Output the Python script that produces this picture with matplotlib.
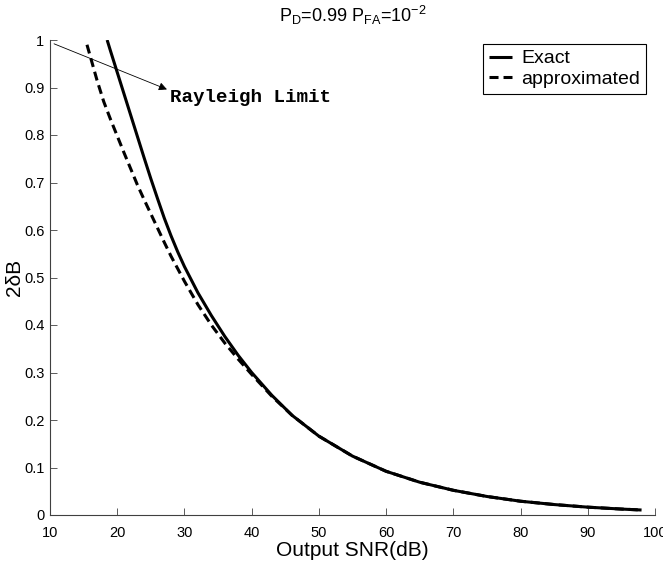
import matplotlib
matplotlib.use("Agg")
import matplotlib.pyplot as plt

# ---- data ----
exact_snr = [18.5, 19, 20, 21, 22, 23, 24, 25, 26, 27, 28, 29, 30, 32, 34, 36, 38, 40,
             43, 46, 50, 55, 60, 65, 70, 75, 80, 85, 90, 95, 98]
exact_val = [1.0, 0.977, 0.932, 0.887, 0.842, 0.797, 0.752, 0.708, 0.666, 0.625, 0.588,
             0.554, 0.523, 0.468, 0.42, 0.376, 0.336, 0.30, 0.252, 0.21, 0.166, 0.124,
             0.092, 0.069, 0.052, 0.039, 0.029, 0.022, 0.0165, 0.0125, 0.0105]

approx_snr = [15.5, 16, 17, 18, 19, 20, 21, 22, 23, 24, 25, 26, 27, 28, 30, 32, 34,
              36, 38, 40, 43, 46, 50, 55, 60, 65, 70, 75, 80, 85, 90, 95, 98]
approx_val = [0.99, 0.965, 0.915, 0.87, 0.833, 0.798, 0.763, 0.729, 0.695, 0.664, 0.634,
              0.604, 0.574, 0.545, 0.492, 0.443, 0.40, 0.362, 0.328, 0.296, 0.25, 0.21,
              0.166, 0.124, 0.092, 0.069, 0.052, 0.039, 0.029, 0.022, 0.0165, 0.0125,
              0.0105]

xticks = [10, 20, 30, 40, 50, 60, 70, 80, 90, 100]
yticks = [0, 0.1, 0.2, 0.3, 0.4, 0.5, 0.6, 0.7, 0.8, 0.9, 1]
ytick_labels = ["0", "0.1", "0.2", "0.3", "0.4", "0.5", "0.6", "0.7", "0.8", "0.9", "1"]

plt.rcParams['font.family'] = ['Liberation Sans', 'DejaVu Sans']
plt.rcParams['mathtext.fontset'] = 'custom'
plt.rcParams['mathtext.rm'] = 'Liberation Sans'
plt.rcParams['mathtext.it'] = 'Liberation Sans'
plt.rcParams['lines.scale_dashes'] = False

fig = plt.figure(figsize=(6.63, 5.63), dpi=100)
ax = fig.add_axes([50/663, 48/563, 605/663, 475/563])

ax.plot(exact_snr, exact_val, color='black', lw=2.2, solid_capstyle='butt', label='Exact')
ax.plot(approx_snr, approx_val, color='black', lw=2.2, dashes=[6.5, 3.6],
        dash_capstyle='butt', label='approximated')

ax.set_xlim(10, 100)
ax.set_ylim(0, 1)
ax.set_xticks(xticks)
ax.set_yticks(yticks)
ax.set_yticklabels(ytick_labels)
for s in ['top', 'right']:
    ax.spines[s].set_visible(False)
for s in ['left', 'bottom']:
    ax.spines[s].set_color('#404040')
    ax.spines[s].set_linewidth(0.8)
ax.tick_params(direction='in', length=5, width=0.6, color='#404040', labelsize=10.5)
ax.tick_params(axis='x', pad=8)
ax.tick_params(axis='y', pad=4)

ax.set_xlabel('Output SNR(dB)', fontsize=15, labelpad=1)
ax.set_ylabel('2\u03b4B', fontsize=15)
ax.yaxis.set_label_coords(-0.043, 0.5)
ax.set_title(r'$\mathrm{P_{D}}$=0.99 $\mathrm{P_{FA}}$=10$^{-2}$', fontsize=13, pad=13)

ax.annotate('', xy=(27.4, 0.896), xytext=(10.6, 0.992), textcoords='data',
            arrowprops=dict(arrowstyle='-|>', lw=0.6, color='black',
                            mutation_scale=12, shrinkA=0, shrinkB=0))
ax.text(27.8, 0.878, 'Rayleigh Limit', family=['Liberation Mono', 'DejaVu Sans Mono'],
        fontweight='bold', fontsize=13.8, va='center', ha='left')

leg = ax.legend(loc='upper right', bbox_to_anchor=(0.992, 1.0), fontsize=14,
                fancybox=False, framealpha=1, edgecolor='black',
                handlelength=1.2, handletextpad=0.5, borderpad=0.3,
                labelspacing=0.15, borderaxespad=0.2)
leg.get_frame().set_linewidth(0.8)

fig.savefig('out.png', dpi=100)
